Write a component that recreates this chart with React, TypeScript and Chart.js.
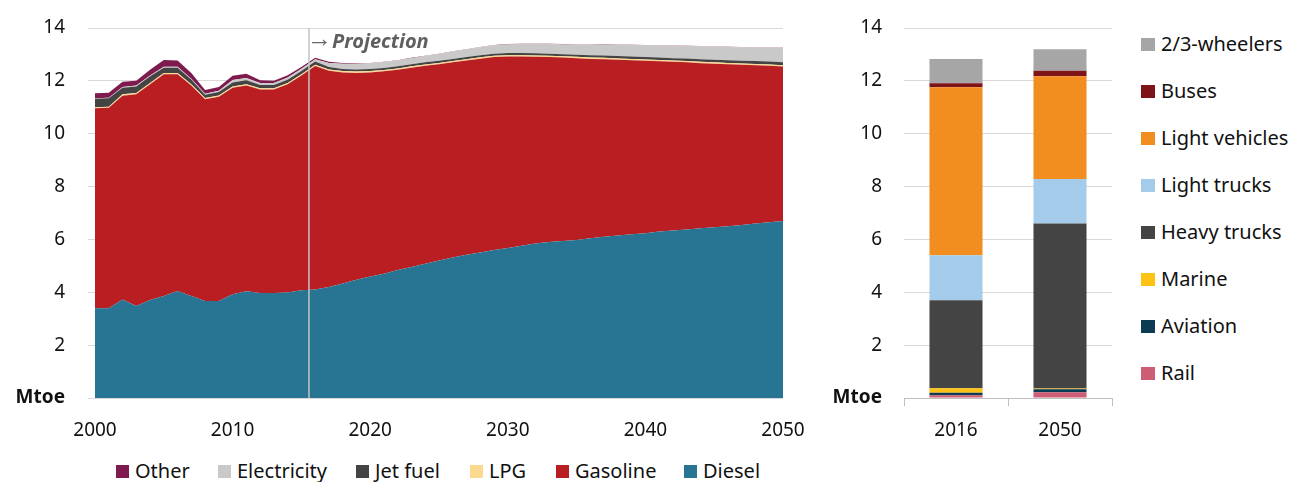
import React, { useEffect, useRef } from 'react';
import { Chart, registerables } from 'chart.js';

Chart.register(...registerables);

const FONT = '"Noto Sans", "Open Sans", sans-serif';

// ---------- Left chart data (Mtoe) ----------
const years = [
  '2000','2001','2002','2003','2004','2005','2006','2007','2008','2009',
  '2010','2011','2012','2013','2014','2015','2016','2017','2018','2019',
  '2020','2021','2022','2023','2024','2025','2026','2027','2028','2029',
  '2030','2031','2032','2033','2034','2035','2036','2037','2038','2039',
  '2040','2041','2042','2043','2044','2045','2046','2047','2048','2049','2050',
];

const diesel = [
  3.40, 3.40, 3.73, 3.48, 3.71, 3.86, 4.05, 3.86, 3.67, 3.67,
  3.93, 4.04, 3.97, 3.97, 3.99, 4.08, 4.11, 4.20, 4.33, 4.47,
  4.60, 4.70, 4.84, 4.96, 5.08, 5.20, 5.32, 5.42, 5.51, 5.60,
  5.68, 5.76, 5.85, 5.90, 5.94, 5.98, 6.04, 6.10, 6.15, 6.20,
  6.23, 6.30, 6.34, 6.38, 6.42, 6.46, 6.50, 6.55, 6.60, 6.65, 6.70,
];

const gasoline = [
  7.56, 7.58, 7.71, 8.01, 8.16, 8.39, 8.20, 7.96, 7.63, 7.73,
  7.81, 7.78, 7.70, 7.70, 7.88, 8.12, 8.45, 8.18, 7.99, 7.83,
  7.72, 7.66, 7.58, 7.54, 7.49, 7.43, 7.38, 7.35, 7.33, 7.30,
  7.24, 7.16, 7.06, 7.00, 6.94, 6.88, 6.79, 6.72, 6.65, 6.58,
  6.53, 6.44, 6.38, 6.32, 6.25, 6.19, 6.13, 6.06, 5.99, 5.92, 5.84,
];

const lpg = [
  0.04, 0.04, 0.05, 0.05, 0.05, 0.05, 0.05, 0.05, 0.05, 0.05,
  0.05, 0.05, 0.05, 0.05, 0.05, 0.05, 0.05, 0.05, 0.05, 0.05,
  0.05, 0.05, 0.05, 0.05, 0.05, 0.05, 0.05, 0.05, 0.05, 0.05,
  0.05, 0.05, 0.05, 0.05, 0.05, 0.05, 0.05, 0.05, 0.05, 0.05,
  0.05, 0.05, 0.05, 0.05, 0.05, 0.05, 0.05, 0.05, 0.05, 0.05, 0.05,
];

const jetFuel = [
  0.32, 0.32, 0.25, 0.25, 0.25, 0.20, 0.20, 0.18, 0.12, 0.13,
  0.15, 0.15, 0.12, 0.12, 0.12, 0.12, 0.12, 0.09, 0.08, 0.08,
  0.08, 0.08, 0.08, 0.08, 0.08, 0.08, 0.08, 0.08, 0.08, 0.08,
  0.08, 0.08, 0.08, 0.08, 0.08, 0.08, 0.09, 0.09, 0.09, 0.09,
  0.09, 0.09, 0.09, 0.10, 0.10, 0.10, 0.10, 0.10, 0.11, 0.11, 0.11,
];

const electricity = [
  0.02, 0.02, 0.03, 0.03, 0.03, 0.03, 0.03, 0.03, 0.04, 0.05,
  0.09, 0.09, 0.08, 0.08, 0.09, 0.09, 0.09, 0.16, 0.20, 0.21,
  0.22, 0.22, 0.22, 0.23, 0.24, 0.26, 0.28, 0.29, 0.30, 0.32,
  0.33, 0.34, 0.35, 0.36, 0.37, 0.38, 0.40, 0.42, 0.43, 0.44,
  0.45, 0.46, 0.47, 0.47, 0.49, 0.49, 0.50, 0.51, 0.51, 0.52, 0.54,
];

const other = [
  0.19, 0.19, 0.20, 0.18, 0.22, 0.26, 0.24, 0.22, 0.14, 0.14,
  0.16, 0.16, 0.10, 0.08, 0.08, 0.06, 0.05, 0.04, 0.03, 0.02,
  0.01, 0.01, 0.01, 0.01, 0.01, 0.01, 0.01, 0.01, 0.01, 0.01,
  0.01, 0.01, 0.01, 0.01, 0.01, 0.01, 0.01, 0.01, 0.01, 0.01,
  0.01, 0.01, 0.01, 0.01, 0.01, 0.01, 0.01, 0.01, 0.01, 0.01, 0.01,
];

const projectionIndex = 15.55; // position of the projection divider (between 2015 and 2016)

// ---------- Right chart data (Mtoe) ----------
const barCategories = ['2016', '2050'];
const rail = [0.10, 0.22];
const aviation = [0.10, 0.11];
const marine = [0.17, 0.03];
const heavyTrucks = [3.33, 6.24];
const lightTrucks = [1.70, 1.69];
const lightVehicles = [6.36, 3.88];
const buses = [0.15, 0.21];
const wheelers = [0.92, 0.82];

const yTicks = [0, 2, 4, 6, 8, 10, 12, 14];

const C = {
  diesel: '#277592',
  gasoline: '#b91e23',
  lpg: '#fbd98e',
  jet: '#444444',
  elec: '#c9c9c9',
  other: '#7f1a4f',
  wheelers: '#a6a6a6',
  buses: '#7f1418',
  lv: '#f28e1f',
  lt: '#a4cbea',
  ht: '#444444',
  marine: '#fcc314',
  aviation: '#0b3a52',
  rail: '#cd5c75',
};

const leftLegend = [
  { label: 'Other', color: C.other, x: 116 },
  { label: 'Electricity', color: C.elec, x: 218 },
  { label: 'Jet fuel', color: C.jet, x: 356 },
  { label: 'LPG', color: C.lpg, x: 470 },
  { label: 'Gasoline', color: C.gasoline, x: 556 },
  { label: 'Diesel', color: C.diesel, x: 684 },
];

const rightLegend = [
  { label: '2/3-wheelers', color: C.wheelers },
  { label: 'Buses', color: C.buses },
  { label: 'Light vehicles', color: C.lv },
  { label: 'Light trucks', color: C.lt },
  { label: 'Heavy trucks', color: C.ht },
  { label: 'Marine', color: C.marine },
  { label: 'Aviation', color: C.aviation },
  { label: 'Rail', color: C.rail },
];

const projectionPlugin = {
  id: 'projectionLine',
  afterDatasetsDraw(chart: any) {
    const { ctx, chartArea, scales } = chart;
    const x = scales.x.getPixelForValue(projectionIndex);
    ctx.save();
    ctx.strokeStyle = '#c4c4c4';
    ctx.lineWidth = 1.5;
    ctx.beginPath();
    ctx.moveTo(x, chartArea.top);
    ctx.lineTo(x, chartArea.bottom);
    ctx.stroke();
    ctx.textBaseline = 'middle';
    ctx.fillStyle = '#6a6a6a';
    ctx.font = `25px ${FONT}`;
    ctx.fillText('→', x - 2, 40);
    ctx.fillStyle = '#5f5f5f';
    ctx.font = `italic bold 20px ${FONT}`;
    ctx.fillText('Projection', x + 23, 42);
    ctx.restore();
  },
};

const yTickFont = (ctx: any) => ({
  family: FONT,
  size: 19,
  weight: ctx.tick && ctx.tick.value === 0 ? 'bold' : 'normal',
});

const yTickLabel = (v: any) => (v === 0 ? 'Mtoe' : String(v));

function area(label: string, data: number[], color: string, fill: any) {
  return {
    label,
    data,
    backgroundColor: color,
    borderColor: color,
    borderWidth: 0,
    pointRadius: 0,
    tension: 0,
    fill,
  };
}

export default function App() {
  const leftRef = useRef<HTMLCanvasElement>(null);
  const rightRef = useRef<HTMLCanvasElement>(null);

  useEffect(() => {
    const left = new Chart(leftRef.current!, {
      type: 'line',
      data: {
        labels: years,
        datasets: [
          area('Diesel', diesel, C.diesel, 'origin'),
          area('Gasoline', gasoline, C.gasoline, '-1'),
          area('LPG', lpg, C.lpg, '-1'),
          area('Jet fuel', jetFuel, C.jet, '-1'),
          area('Electricity', electricity, C.elec, '-1'),
          area('Other', other, C.other, '-1'),
        ],
      },
      options: {
        responsive: false,
        animation: false,
        layout: { padding: { top: 28, right: 47, bottom: 0, left: 0 } },
        plugins: { legend: { display: false }, tooltip: { enabled: false } },
        scales: {
          x: {
            type: 'category',
            offset: false,
            grid: { display: false },
            border: { display: false },
            ticks: {
              autoSkip: false,
              maxRotation: 0,
              padding: 13,
              color: '#111',
              font: { family: FONT, size: 19 },
              callback: (_v: any, i: number) => (Number(years[i]) % 10 === 0 ? years[i] : null),
            },
            afterFit: (s: any) => { s.height = 47; },
          },
          y: {
            stacked: true,
            min: 0,
            max: 14,
            afterBuildTicks: (s: any) => { s.ticks = yTicks.map((v) => ({ value: v })); },
            grid: { color: '#d9d9d9', lineWidth: 1, drawTicks: true, tickLength: 7 },
            border: { display: false },
            ticks: { padding: 23, color: '#111', font: yTickFont, callback: yTickLabel },
            afterFit: (s: any) => { s.width = 95; s.paddingTop = 0; s.paddingBottom = 0; },
          },
        },
      },
      plugins: [projectionPlugin],
    } as any);

    const bar = (label: string, data: number[], color: string) => ({
      label,
      data,
      backgroundColor: color,
      borderWidth: 0,
      barPercentage: 0.51,
      categoryPercentage: 1,
    });

    const right = new Chart(rightRef.current!, {
      type: 'bar',
      data: {
        labels: barCategories,
        datasets: [
          bar('Rail', rail, C.rail),
          bar('Aviation', aviation, C.aviation),
          bar('Marine', marine, C.marine),
          bar('Heavy trucks', heavyTrucks, C.ht),
          bar('Light trucks', lightTrucks, C.lt),
          bar('Light vehicles', lightVehicles, C.lv),
          bar('Buses', buses, C.buses),
          bar('2/3-wheelers', wheelers, C.wheelers),
        ],
      },
      options: {
        responsive: false,
        animation: false,
        layout: { padding: { top: 28, right: 18, bottom: 0, left: 0 } },
        plugins: { legend: { display: false }, tooltip: { enabled: false } },
        scales: {
          x: {
            stacked: true,
            offset: true,
            grid: { offset: true, drawOnChartArea: false, drawTicks: true, tickLength: 8, color: '#bfbfbf' },
            border: { display: true, color: '#bfbfbf', width: 1 },
            ticks: { padding: 13, color: '#111', font: { family: FONT, size: 19 } },
            afterFit: (s: any) => { s.height = 47; },
          },
          y: {
            stacked: true,
            min: 0,
            max: 14,
            afterBuildTicks: (s: any) => { s.ticks = yTicks.map((v) => ({ value: v })); },
            grid: { color: '#d9d9d9', lineWidth: 1, drawTicks: false },
            border: { display: false },
            ticks: { padding: 22, color: '#111', font: yTickFont, callback: yTickLabel },
            afterFit: (s: any) => { s.width = 84; s.paddingTop = 0; s.paddingBottom = 0; },
          },
        },
      },
    } as any);

    return () => {
      left.destroy();
      right.destroy();
    };
  }, []);

  const textStyle: React.CSSProperties = { fontSize: 20, color: '#111', lineHeight: '24px', whiteSpace: 'nowrap' };

  return (
    <div style={{ position: 'fixed', left: 0, top: 0, width: 1290, height: 482, background: '#fff', fontFamily: FONT, overflow: 'hidden' }}>
      <canvas ref={leftRef} width={830} height={445} style={{ position: 'absolute', left: 0, top: 0 }} />
      <canvas ref={rightRef} width={310} height={445} style={{ position: 'absolute', left: 820, top: 0 }} />
      {leftLegend.map((it) => (
        <div key={it.label} style={{ position: 'absolute', left: it.x, top: 459, height: 24, display: 'flex', alignItems: 'center' }}>
          <span style={{ display: 'inline-block', width: 13, height: 13, background: it.color, marginRight: 6 }} />
          <span style={textStyle}>{it.label}</span>
        </div>
      ))}
      {rightLegend.map((it, i) => (
        <div key={it.label} style={{ position: 'absolute', left: 1141, top: 32 + i * 47, height: 24, display: 'flex', alignItems: 'center' }}>
          <span style={{ display: 'inline-block', width: 14, height: 13, background: it.color, marginRight: 6 }} />
          <span style={textStyle}>{it.label}</span>
        </div>
      ))}
    </div>
  );
}
